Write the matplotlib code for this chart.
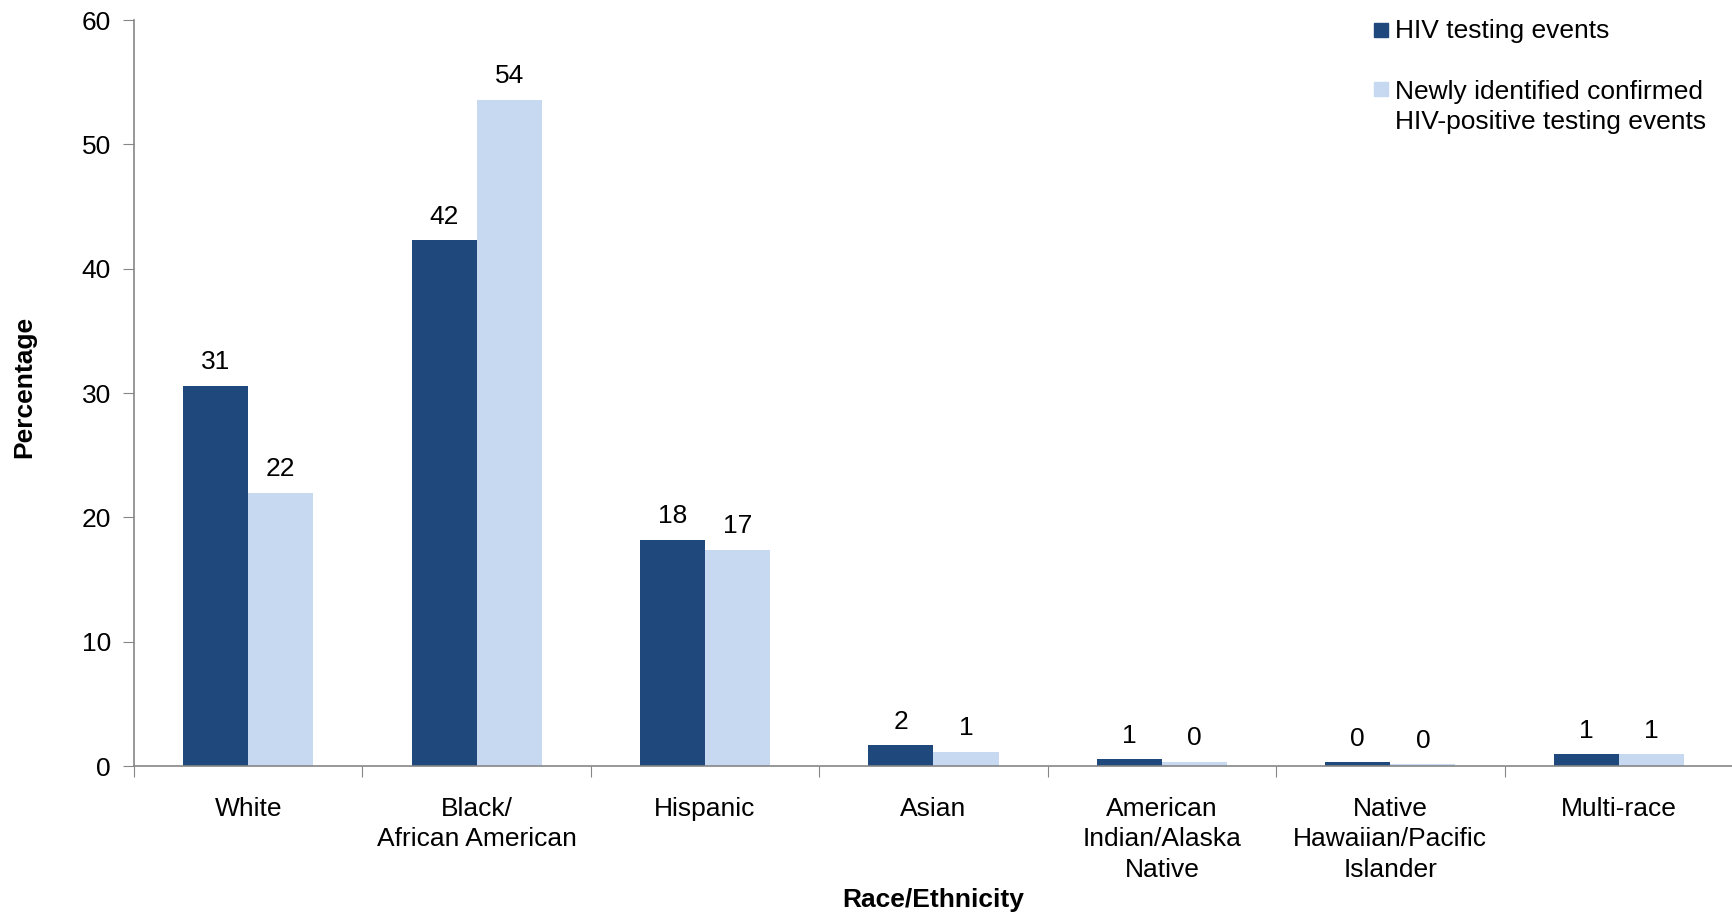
import matplotlib
matplotlib.use("Agg")
import matplotlib.pyplot as plt
from matplotlib.patches import Rectangle
import numpy as np

plt.rcParams['font.family'] = ['Liberation Sans', 'DejaVu Sans']

categories = ["White", "Black/\nAfrican American", "Hispanic", "Asian",
              "American\nIndian/Alaska\nNative", "Native\nHawaiian/Pacific\nIslander",
              "Multi-race"]
testing_events = [30.6, 42.3, 18.2, 1.7, 0.55, 0.3, 0.95]
positive_events = [22.0, 53.6, 17.4, 1.15, 0.35, 0.15, 0.95]
series_names = ["HIV testing events",
                "Newly identified confirmed\nHIV-positive testing events"]
yticks = [0, 10, 20, 30, 40, 50, 60]

dark = "#1F497D"
light = "#C6D9F1"
axis_gray = "#868686"
fs = 19
lsp = 1.35

W, H = 1733, 913
fig = plt.figure(figsize=(W / 100, H / 100), dpi=100)
ax = fig.add_axes([0.0773, 0.161, 0.9227, 0.817])

x = np.arange(len(categories))
w = 0.285
b1 = ax.bar(x - w / 2, testing_events, w, color=dark, label=series_names[0])
b2 = ax.bar(x + w / 2, positive_events, w, color=light, label=series_names[1])

for bars, vals in ((b1, testing_events), (b2, positive_events)):
    for bar, v in zip(bars, vals):
        ax.annotate(f"{v:.0f}", (bar.get_x() + bar.get_width() / 2, v),
                    xytext=(0, 16.8), textcoords="offset points",
                    ha="center", va="center", fontsize=fs)

ax.set_xlim(-0.5, len(categories) - 0.5)
ax.set_ylim(0, 60)
ax.set_yticks(yticks)
ax.set_yticklabels([str(t) for t in yticks], fontsize=fs)

# category labels sit between the boundary ticks
ax.set_xticks(np.arange(len(categories) + 1) - 0.5)
ax.set_xticklabels([])
ax.set_xticks(x, minor=True)
ax.set_xticklabels(categories, minor=True, fontsize=fs, linespacing=lsp)
ax.tick_params(axis="x", which="minor", length=0, pad=22)
ax.tick_params(axis="x", which="major", length=8, color=axis_gray, direction="out")
ax.tick_params(axis="y", length=8, color=axis_gray, direction="out", pad=8.5)

for s in ("top", "right"):
    ax.spines[s].set_visible(False)
for s in ("left", "bottom"):
    ax.spines[s].set_color(axis_gray)
    ax.spines[s].set_linewidth(1.2)

ax_w = 0.9227 * W
ax_h = 0.817 * H
ax.set_ylabel("Percentage", fontsize=fs, fontweight="bold", va="center")
ax.yaxis.set_label_coords((24 - 134) / ax_w, 0.508)
ax.set_xlabel("Race/Ethnicity", fontsize=fs, fontweight="bold", va="center")
ax.xaxis.set_label_coords(0.5, -(900 - 766) / ax_h)

# legend, placed in figure pixels
def fig_xy(px, py):
    return px / W, 1 - py / H

sq = 14
for (px, py, pc), color, text in (((1374, 30, 31), dark, series_names[0]),
                                  ((1374, 89, 107), light, series_names[1])):
    fx, fy = fig_xy(px, py + sq / 2)
    fig.patches.append(Rectangle((fx, fy), sq / W, sq / H, color=color,
                                 transform=fig.transFigure, figure=fig))
    tx, ty = fig_xy(px + 21, pc)
    fig.text(tx, ty, text, fontsize=fs, ha="left", va="center", linespacing=lsp)

fig.savefig("out.png", dpi=100)
